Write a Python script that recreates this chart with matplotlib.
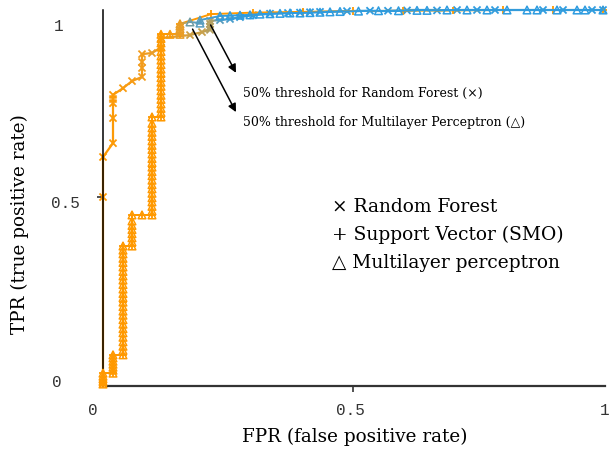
import numpy as np
import matplotlib
matplotlib.use("Agg")
import matplotlib.pyplot as plt
from matplotlib.collections import LineCollection
from matplotlib.colors import LinearSegmentedColormap
from matplotlib.transforms import ScaledTranslation

# ---------------- data ----------------
rf_fpr = [0, 0, 0, 0.02, 0.02, 0.02, 0.02, 0.02, 0.04, 0.058,
          0.078, 0.078, 0.078, 0.078, 0.098, 0.116, 0.116, 0.174, 0.198, 0.214,
          0.214, 0.214, 0.214, 0.234, 0.254, 0.274, 0.30, 0.334, 0.37, 0.394,
          0.414, 0.434, 0.488, 0.534, 0.57, 0.608, 0.668, 0.708, 0.748, 0.784,
          0.88, 0.92, 0.978, 1.0]
rf_tpr = [0, 0.5, 0.607, 0.644, 0.711, 0.751, 0.762, 0.773, 0.791, 0.81,
          0.821, 0.845, 0.861, 0.882, 0.885, 0.9, 0.925, 0.933, 0.941, 0.947,
          0.955, 0.963, 0.971, 0.973, 0.976, 0.981, 0.986, 0.99, 0.992, 0.993,
          0.994, 0.995, 0.997, 0.998, 0.998, 0.999, 0.999, 1.0, 1.0, 1.0,
          1.0, 1.0, 1.0, 1.0]

svm_fpr = [0, 0, 0.02, 0.02, 0.04, 0.04, 0.04, 0.058, 0.058, 0.078,
           0.098, 0.098, 0.098, 0.116, 0.116, 0.116, 0.134, 0.154, 0.154, 0.216,
           0.3, 0.4, 0.5, 0.6, 0.7, 0.8, 0.9, 1.0]
svm_tpr = [0, 0.029, 0.029, 0.078, 0.078, 0.22, 0.369, 0.369, 0.452, 0.452,
           0.452, 0.58, 0.714, 0.714, 0.82, 0.935, 0.935, 0.935, 0.963, 0.989,
           0.993, 0.995, 0.997, 0.998, 0.999, 1.0, 1.0, 1.0]

mlp_fpr = [0, 0, 0, 0, 0,
           0.02, 0.02, 0.02, 0.02, 0.02, 0.02, 0.02,
           0.04, 0.04, 0.04, 0.04, 0.04, 0.04, 0.04, 0.04, 0.04, 0.04, 0.04, 0.04, 0.04,
           0.04, 0.04, 0.04, 0.04, 0.04, 0.04, 0.04, 0.04, 0.04, 0.04, 0.04, 0.04, 0.04,
           0.058, 0.058, 0.058, 0.058, 0.058, 0.058, 0.058, 0.058,
           0.078,
           0.098, 0.098, 0.098, 0.098, 0.098, 0.098, 0.098, 0.098, 0.098, 0.098, 0.098, 0.098,
           0.098, 0.098, 0.098, 0.098, 0.098, 0.098, 0.098, 0.098, 0.098, 0.098, 0.098,
           0.116, 0.116, 0.116, 0.116, 0.116, 0.116, 0.116, 0.116, 0.116, 0.116,
           0.116, 0.116, 0.116, 0.116, 0.116, 0.116, 0.116, 0.116, 0.116, 0.116,
           0.134,
           0.154, 0.154, 0.154, 0.154, 0.154,
           0.174, 0.194, 0.194,
           0.234, 0.254, 0.274, 0.294, 0.314, 0.334, 0.354, 0.374, 0.394, 0.414,
           0.434, 0.454, 0.474, 0.511, 0.551, 0.591, 0.628, 0.648, 0.688, 0.728,
           0.768, 0.808, 0.848, 0.868, 0.908, 0.948, 0.964, 1.0]
mlp_tpr = [0, 0.007, 0.014, 0.021, 0.029,
           0.029, 0.037, 0.045, 0.053, 0.061, 0.07, 0.078,
           0.078, 0.09, 0.101, 0.113, 0.125, 0.137, 0.148, 0.16, 0.172, 0.184, 0.195, 0.207, 0.219,
           0.231, 0.242, 0.254, 0.266, 0.278, 0.289, 0.301, 0.313, 0.325, 0.336, 0.348, 0.358, 0.369,
           0.369, 0.38, 0.391, 0.402, 0.413, 0.424, 0.436, 0.452,
           0.452,
           0.452, 0.463, 0.475, 0.487, 0.498, 0.51, 0.522, 0.533, 0.545, 0.557, 0.568, 0.58,
           0.592, 0.603, 0.615, 0.627, 0.638, 0.65, 0.662, 0.673, 0.685, 0.697, 0.714,
           0.714, 0.726, 0.737, 0.749, 0.761, 0.772, 0.784, 0.796, 0.807, 0.819,
           0.831, 0.842, 0.854, 0.866, 0.877, 0.889, 0.901, 0.912, 0.924, 0.935,
           0.935,
           0.935, 0.943, 0.95, 0.957, 0.963,
           0.968, 0.965, 0.973,
           0.984, 0.985, 0.986, 0.987, 0.989, 0.99, 0.991, 0.992, 0.992, 0.993,
           0.994, 0.995, 0.996, 0.997, 0.998, 0.998, 0.999, 0.999, 1.0, 1.0,
           1.0, 1.0, 1.0, 1.0, 1.0, 1.0, 1.0, 1.0]

# points where each classifier crosses its 50 % threshold (annotated)
rf_half = (0.21, 0.973)
mlp_half = (0.174, 0.962)

x_ticks = [0, 0.5, 1]
x_tick_labels = ["0", "0.5", "1"]
y_ticks = [0, 0.5, 1]
y_tick_labels = ["0", "0.5", "1"]

legend_lines = ["\u00d7 Random Forest", "+ Support Vector (SMO)", "\u25b3 Multilayer perceptron"]
note_rf = "50% threshold for Random Forest (\u00d7)"
note_mlp = "50% threshold for Multilayer Perceptron (\u25b3)"

assert len(rf_fpr) == len(rf_tpr)
assert len(svm_fpr) == len(svm_tpr)
assert len(mlp_fpr) == len(mlp_tpr)

# ---------------- style ----------------
cmap = LinearSegmentedColormap.from_list(
    "thr", [(0, "#FF9900"), (0.15, "#F39C1C"), (0.4, "#C2A050"),
            (0.65, "#5E9CB8"), (1, "#2E9CE0")])

SERIF = ["DejaVu Serif", "DejaVu Sans"]
MONO = "Liberation Mono"

fig = plt.figure(figsize=(6.15, 4.5), dpi=100)
W, H = 615, 450
ax = fig.add_axes([103 / W, (H - 386) / H, (605 - 103) / W, (386 - 10) / H])
ax.set_xlim(0, 1.004)
ax.set_ylim(-0.0053, 1.0)


def draw(fpr, tpr, tvals, marker, s, z, hollow, lw=1.3, mlw=1.1):
    fpr = np.asarray(fpr, float)
    tpr = np.asarray(tpr, float)
    tvals = np.asarray(tvals, float)
    pts = np.column_stack([fpr, tpr])
    segs = np.stack([pts[:-1], pts[1:]], axis=1)
    seg_c = cmap((tvals[:-1] + tvals[1:]) / 2)
    lc = LineCollection(segs, colors=seg_c, linewidths=lw, zorder=z,
                        clip_on=False, capstyle="round")
    ax.add_collection(lc)
    cols = cmap(tvals)
    if hollow:
        ax.scatter(fpr, tpr, s=s, marker=marker, facecolors="none",
                   edgecolors=cols, linewidths=mlw, zorder=z + 0.5, clip_on=False)
    else:
        ax.scatter(fpr, tpr, s=s, marker=marker, c=cols, linewidths=mlw,
                   zorder=z + 0.5, clip_on=False)


rf_t = np.interp(rf_fpr, [0, 0.1, 0.212, 0.226, 0.29], [0, 0.2, 0.4, 0.65, 1.0])
svm_t = np.zeros(len(svm_fpr))
mlp_t = np.interp(mlp_fpr, [0, 0.12, 0.154, 0.174, 0.194, 0.24], [0, 0, 0.2, 0.6, 0.7, 1.0])

draw(rf_fpr, rf_tpr, rf_t, "x", 26, 2, False, lw=1.6, mlw=1.3)
draw(svm_fpr, svm_tpr, svm_t, "+", 30, 3, False, lw=1.4, mlw=1.3)
draw(mlp_fpr, mlp_tpr, mlp_t, "^", 30, 4, True, lw=1.4, mlw=1.1)

# spines
for side in ("top", "right"):
    ax.spines[side].set_visible(False)
ax.spines["left"].set_color("black")
ax.spines["left"].set_linewidth(1.1)
ax.spines["bottom"].set_color("#333333")
ax.spines["bottom"].set_linewidth(1.6)
ax.spines["bottom"].set_bounds(0.008, 1.004)

# ticks
ax.set_xticks(x_ticks, labels=x_tick_labels)
ax.set_yticks(y_ticks, labels=y_tick_labels)
ax.tick_params(axis="both", direction="out", length=4, width=1.1, color="#222222",
               labelsize=11.5, labelcolor="#333333")
ax.tick_params(axis="x", pad=8)
ax.tick_params(axis="y", pad=27)
for t in (ax.xaxis.get_major_ticks()[0], ax.xaxis.get_major_ticks()[-1],
          ax.yaxis.get_major_ticks()[0], ax.yaxis.get_major_ticks()[-1]):
    t.tick1line.set_visible(False)
for lab in ax.get_xticklabels() + ax.get_yticklabels():
    lab.set_fontfamily(MONO)
for lab in ax.get_yticklabels():
    lab.set_horizontalalignment("center")

x_nudge = [-10, -3, 2]
y_nudge = [(-3, 3), (5, -5), (-1, -15)]
for lab, dx in zip(ax.get_xticklabels(), x_nudge):
    lab.set_transform(lab.get_transform() + ScaledTranslation(dx / 100, 0, fig.dpi_scale_trans))
for lab, (dx, dy) in zip(ax.get_yticklabels(), y_nudge):
    lab.set_transform(lab.get_transform() + ScaledTranslation(dx / 100, dy / 100, fig.dpi_scale_trans))

# axis labels
ax.set_xlabel("FPR (false positive rate)", fontsize=13.2, family=SERIF, va="center")
ax.xaxis.set_label_coords(0.502, -0.136)
ax.set_ylabel("TPR (true positive rate)", fontsize=13.2, family=SERIF, va="center")
ax.yaxis.set_label_coords(-0.165, 0.431)

# legend-like text block
for i, txt in enumerate(legend_lines):
    ax.text(0.458, 0.46 - 0.075 * i, txt, fontsize=13.4, family=SERIF,
            ha="left", va="baseline", color="black")

# threshold annotations
ax.annotate("", xy=(0.266, 0.832), xytext=rf_half,
            arrowprops=dict(arrowstyle="-|>", color="black", lw=1.1,
                            shrinkA=4, shrinkB=0, mutation_scale=12))
ax.annotate("", xy=(0.266, 0.727), xytext=mlp_half,
            arrowprops=dict(arrowstyle="-|>", color="black", lw=1.1,
                            shrinkA=4, shrinkB=0, mutation_scale=12))
ax.text(0.28, 0.778, note_rf, fontsize=9, family=SERIF, ha="left", va="center")
ax.text(0.28, 0.698, note_mlp, fontsize=9, family=SERIF, ha="left", va="center")

fig.savefig("out.png", dpi=100)
